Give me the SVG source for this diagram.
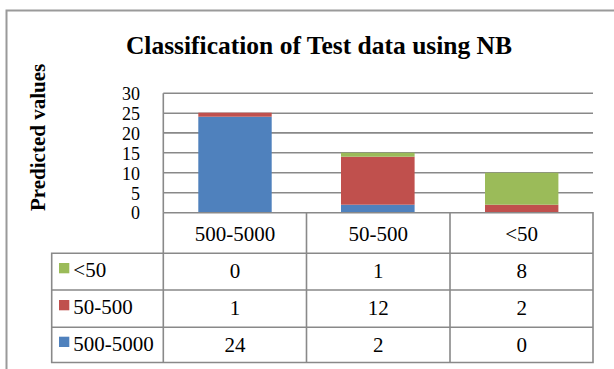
<svg xmlns="http://www.w3.org/2000/svg" width="614" height="369" viewBox="0 0 614 369">
<style>
.g{stroke:#898989;stroke-width:1.6;fill:none}
.b{fill:#4F81BD}.r{fill:#C0504D}.gr{fill:#9BBB59}
</style>
<rect width="614" height="369" fill="#fff"/>
<path d="M6.5 369V10.5H614" fill="none" stroke="#9a9a9a" stroke-width="2"/>
<text x="319" y="54" font-family="'Liberation Serif'" font-weight="bold" font-size="25.5" text-anchor="middle">Classification of Test data using NB</text>
<text transform="translate(45,211) rotate(-90)" font-family="'Liberation Serif'" font-weight="bold" font-size="21">Predicted values</text>
<g id="axis" font-family="'Liberation Serif'" font-size="18" text-anchor="end">
<text x="140" y="100">30</text>
<text x="140" y="120">25</text>
<text x="140" y="139.5">20</text>
<text x="140" y="159.5">15</text>
<text x="140" y="179.5">10</text>
<text x="140" y="199.5">5</text>
<text x="140" y="219">0</text>
</g>
<g id="grid" class="g">
<path d="M163.3 93.3H593M163.3 113.3H593M163.3 132.9H593M163.3 152.7H593M163.3 172.7H593M163.3 192.7H593M163.3 93.3V212.7"/>
</g>
<g id="bars">
<rect class="b" x="198.3" y="116.7" width="73.4" height="96"/>
<rect class="r" x="198.3" y="112.7" width="73.4" height="4"/>
<rect class="b" x="341" y="204.7" width="73.6" height="8"/>
<rect class="r" x="341" y="156.7" width="73.6" height="48"/>
<rect class="gr" x="341" y="152.7" width="73.6" height="4"/>
<rect class="r" x="485" y="204.7" width="73.4" height="8"/>
<rect class="gr" x="485" y="172.7" width="73.4" height="32"/>
</g>
<g id="table" class="g">
<path d="M163.3 212.7H593V362.5H51.7V253.3H593M51.7 290H593M51.7 327.3H593M163.3 212.7V362.5M306.5 212.7V362.5M450 212.7V362.5"/>
</g>
<g id="cats" font-family="'Liberation Serif'" font-size="21" text-anchor="middle">
<text x="234.9" y="240.7">500-5000</text>
<text x="378.3" y="240.7">50-500</text>
<text x="521.7" y="240.7">&lt;50</text>
</g>
<g id="legend" font-family="'Liberation Serif'" font-size="21">
<rect class="gr" x="59" y="263" width="10.3" height="10.3"/>
<text x="73.3" y="277.3">&lt;50</text>
<rect class="r" x="59" y="300" width="10.3" height="10.3"/>
<text x="73.3" y="314.3">50-500</text>
<rect class="b" x="59" y="336.7" width="10.3" height="10.3"/>
<text x="73.3" y="350.5">500-5000</text>
</g>
<g id="values" font-family="'Liberation Serif'" font-size="21" text-anchor="middle">
<text x="234.9" y="278.3">0</text>
<text x="378.3" y="278.3">1</text>
<text x="521.7" y="278.3">8</text>
<text x="234.9" y="315">1</text>
<text x="378.3" y="315">12</text>
<text x="521.7" y="315">2</text>
<text x="234.9" y="351.7">24</text>
<text x="378.3" y="351.7">2</text>
<text x="521.7" y="351.7">0</text>
</g>
</svg>
